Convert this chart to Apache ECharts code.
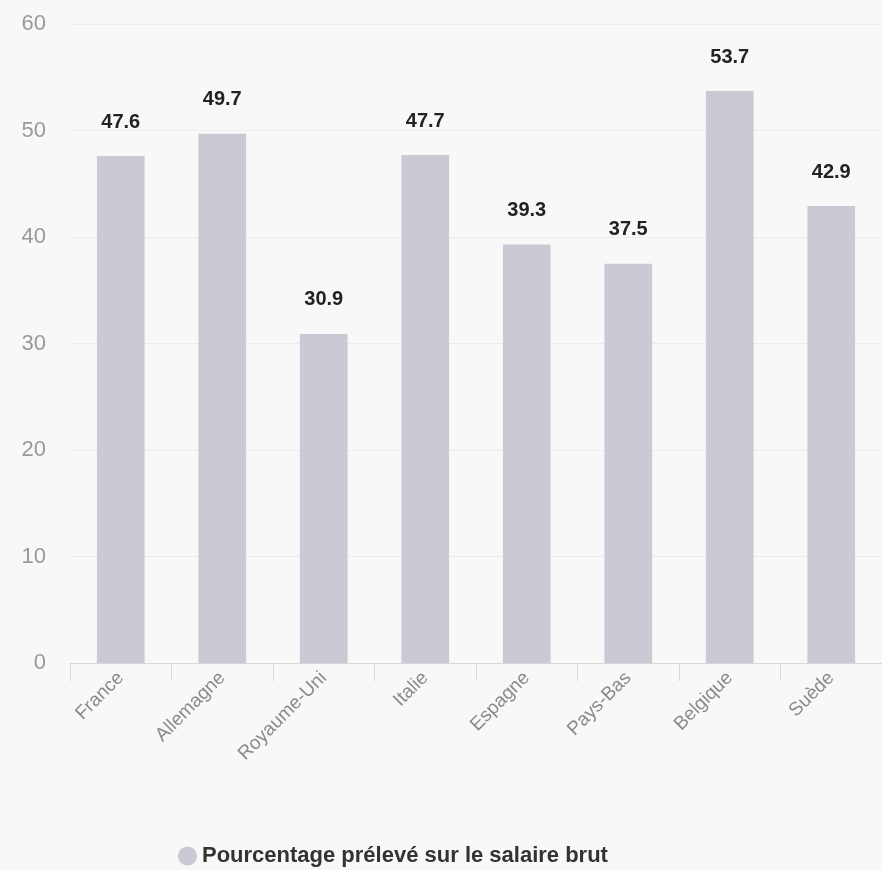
<!DOCTYPE html>
<html>
<head>
<meta charset="utf-8">
<script src="https://cdn.jsdelivr.net/npm/echarts@6/dist/echarts.min.js"></script>
<style>
  html, body { margin: 0; padding: 0; background: #f8f8f8; }
  #chart { width: 882px; height: 870px; }
</style>
</head>
<body>
<div id="chart"></div>
<script>
// données du graphique
var pays = ['France', 'Allemagne', 'Royaume-Uni', 'Italie', 'Espagne', 'Pays-Bas', 'Belgique', 'Suède'];
var pourcentages = [47.6, 49.7, 30.9, 47.7, 39.3, 37.5, 53.7, 42.9];
var nomSerie = 'Pourcentage prélevé sur le salaire brut';

var myChart = echarts.init(document.getElementById('chart'));

var option = {
    backgroundColor: '#f8f8f8',
    animation: false,
    grid: {
        left: 70,
        right: -8,
        top: 24,
        bottom: 207
    },
    legend: {
        data: [nomSerie],
        left: 173,
        top: 840,
        icon: 'circle',
        itemWidth: 19,
        itemHeight: 19,
        itemGap: 8,
        textStyle: { fontSize: 22, fontWeight: 'bold', color: '#333', fontFamily: 'Liberation Sans' }
    },
    xAxis: {
        type: 'category',
        data: pays,
        axisLine: { lineStyle: { color: '#d8d8d8' } },
        axisTick: { show: true, length: 18, lineStyle: { color: '#d8d8d8' } },
        axisLabel: {
            rotate: 45,
            color: '#8a8a8a',
            fontSize: 19,
            margin: 12,
            fontFamily: 'Liberation Sans'
        }
    },
    yAxis: {
        type: 'value',
        min: 0,
        max: 60,
        interval: 10,
        axisLine: { show: false },
        axisTick: { show: false },
        splitLine: { lineStyle: { color: '#ececec' } },
        axisLabel: { color: '#999', fontSize: 22, margin: 24, fontFamily: 'Liberation Sans' }
    },
    color: ['#cacad4'],
    series: [{
        name: nomSerie,
        type: 'bar',
        barWidth: '47%',
        data: pourcentages,
        label: {
            show: true,
            position: 'top',
            distance: 24,
            color: '#222',
            fontSize: 20,
            fontWeight: 'bold',
            fontFamily: 'Liberation Sans'
        }
    }]
};

myChart.setOption(option);
</script>
</body>
</html>
